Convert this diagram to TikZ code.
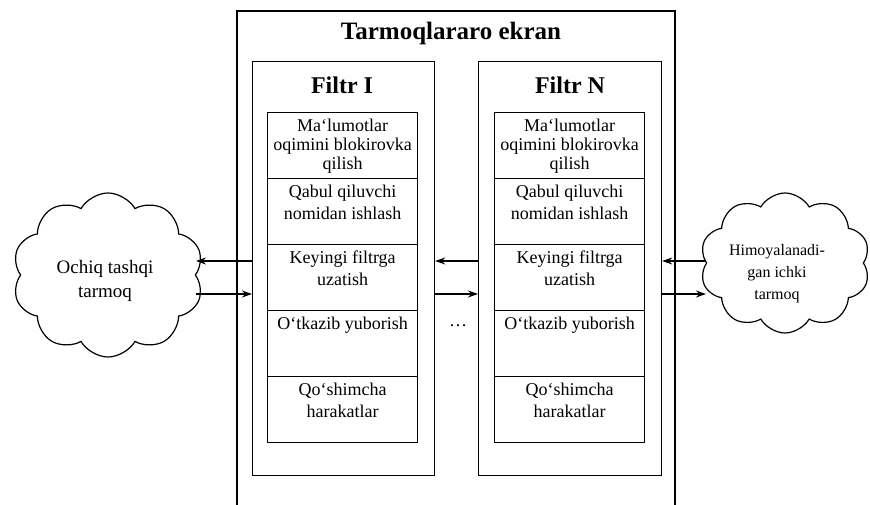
\documentclass[tikz,border=0pt]{standalone}
\usepackage{fontspec}
\setmainfont{Liberation Serif}
\usetikzlibrary{shapes.symbols,arrows.meta}
\begin{document}
\begin{tikzpicture}[x=1pt,y=-1pt,line width=1.2pt,
  filterbox/.style={draw,anchor=north west,inner sep=0pt,minimum height=414pt},
  cell/.style={draw,anchor=north west,inner sep=0pt,minimum width=150pt,minimum height=66pt},
  celltext/.style={anchor=north,inner sep=0pt,yshift=-6pt,align=center,font=\fontsize{16}{19.5}\selectfont,transform shape,scale=1.125},
  netcloud/.style={cloud,draw,cloud puffs=10,cloud puff arc=120,inner sep=0pt},
  arr/.style={-{Stealth[length=10pt,width=7pt]},line width=1.1pt}]
\useasboundingbox (0,0) rectangle (870,505);
% outer firewall frame (open at bottom)
\draw (237,505) -- (237,11) -- (675,11) -- (675,505);
\node[font=\fontsize{16}{19}\selectfont\bfseries,transform shape,scale=1.5625] (title) at (451,33) {Tarmoqlararo ekran};
% filters
\node[filterbox,minimum width=182pt] (f1) at (252,61) {};
\node[filterbox,minimum width=183pt] (fN) at (478,61) {};
\node[font=\fontsize{16}{19}\selectfont\bfseries,transform shape,scale=1.5] (h1) at (342,85) {Filtr I};
\node[font=\fontsize{16}{19}\selectfont\bfseries,transform shape,scale=1.5] (hN) at (570,85) {Filtr N};
\foreach \n/\xx in {1/267,N/494}{
  \foreach \k/\txt [count=\j from 0] in {a/{Ma‘lumotlar\\[-2.7pt]oqimini blokirovka\\[-2.7pt]qilish},b/{Qabul qiluvchi\\nomidan ishlash},c/{Keyingi filtrga\\uzatish},d/{O‘tkazib yuborish},e/{Qo‘shimcha\\harakatlar}}{
    \node[cell] (c\n\k) at (\xx,{112+66*\j}) {};
    \node[celltext] (t\n\k) at (c\n\k.north) {\rule{0pt}{11.5pt}\txt};
  }
}
\node[anchor=base,font=\fontsize{16}{19}\selectfont,transform shape,scale=1.125] (dots) at (458,326) {\ldots};
% clouds
\node[netcloud,minimum width=191pt,minimum height=164pt] (lc) at (108,275) {};
\node[align=center,font=\fontsize{16}{20.2}\selectfont,transform shape,scale=1.1875] (lct) at (105,281) {Ochiq tashqi\\tarmoq};
\node[netcloud,minimum width=170pt,minimum height=140pt] (rc) at (785,263) {};
\node[align=center,font=\fontsize{16}{22}\selectfont] (rct) at (777,274) {Himoyalanadi-\\gan ichki\\tarmoq};
% connectors
\coordinate (ya) at (0,261);
\coordinate (yb) at (0,294);
\draw[arr] (f1.west |- ya) -- (lc.east |- ya);
\draw[arr] (lc.east |- yb) -- (f1.west |- yb);
\draw[arr] (fN.west |- ya) -- (f1.east |- ya);
\draw[arr] (f1.east |- yb) -- (fN.west |- yb);
\draw[arr] (rc.west |- ya) -- (fN.east |- ya);
\draw[arr] (fN.east |- yb) -- (rc.west |- yb);
\end{tikzpicture}
\end{document}
